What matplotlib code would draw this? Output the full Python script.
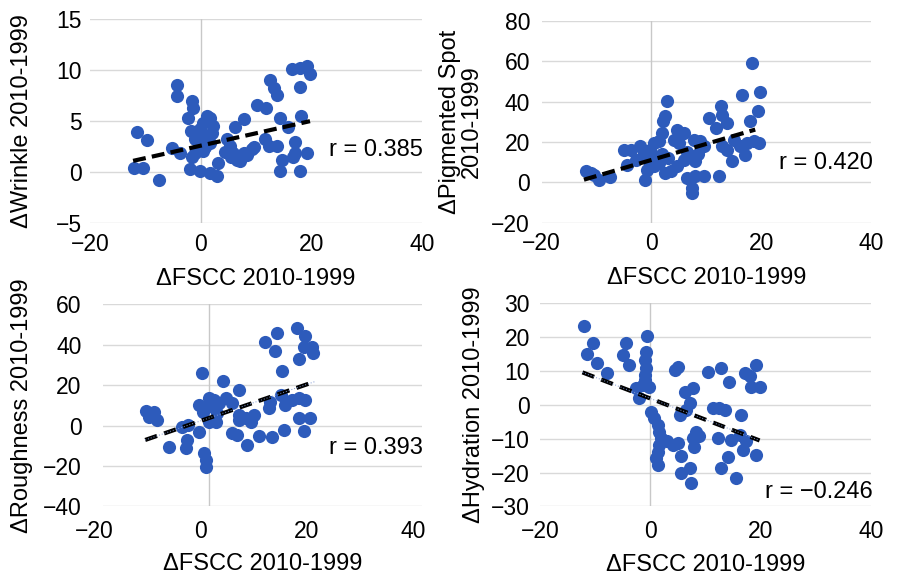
import matplotlib
matplotlib.use("Agg")
import matplotlib.pyplot as plt
from matplotlib.transforms import ScaledTranslation

plt.rcParams['font.family'] = ['Liberation Sans', 'DejaVu Sans']

# x axis shared by all panels
x_label = "ΔFSCC 2010-1999"
x_ticks = [-20, 0, 20, 40]

# Wrinkle
wrinkle_x = [-12.1, -10.4, -11.5, -9.7, -7.6, -5.2, -3.7, -4.3, -4.3, -1.6, -1.3, -2.2, -1.8,
             -1.0, -0.3, -1.0, 0.5, 1.7, -1.6, 1.1, 1.7, 2.3, -0.1, 0.5, 0.3, 1.0, 2.0, 0.8,
             -1.9, -0.1, 1.7, 2.9, 3.2, 7.8, 6.2, 4.7, 5.3, 5.9, 6.6, 7.2, 8.4, 9.3, 9.6, 7.8,
             5.5, 4.5, 10.3, 11.8, 12.6, 13.2, 13.8, 11.7, 12.3, 13.8, 14.4, 15.9, 17.0, 14.7,
             14.4, 16.8, 18.0, 19.3, 17.1, 16.5, 18.0, 19.3, 19.8, 17.9, 18.2]
wrinkle_y = [0.4, 0.4, 3.9, 3.1, -0.8, 2.4, 1.9, 8.5, 7.5, 7.0, 6.3, 5.3, 4.0,
             3.2, 2.6, 1.9, 2.1, 2.9, 1.5, 5.5, 5.3, 4.5, 4.2, 4.8, 3.8, 3.5, 3.8, 2.5,
             0.3, 0.1, -0.1, -0.4, 0.9, 5.2, 4.4, 3.2, 2.6, 1.9, 1.2, 1.1, 1.7, 2.3, 2.5, 1.9,
             1.5, 2.0, 6.6, 6.3, 9.0, 8.3, 7.6, 3.2, 2.6, 2.6, 5.3, 4.4, 3.0, 1.2,
             0.1, 1.5, 0.1, 1.9, 1.9, 10.1, 10.2, 10.4, 9.6, 8.4, 5.5]

# Pigmented spot
pigment_x = [18.3, 16.5, 19.7, 19.4, 18.0, 2.9, 2.4, 2.1, 1.9, 1.3, 12.6, 12.9, 13.8, 11.7,
             10.4, 4.7, 5.9, 4.1, 5.0, 7.7, 8.9, 9.5, -5.0, -3.8, -2.0, -1.4, -0.2, 0.4,
             -4.4, -2.9, -0.8, -1.1, 0.4, 1.3, 2.5, 3.5, 4.7, 5.9, 7.4, 8.0, 12.9, 13.8,
             14.7, 16.2, 17.1, 17.4, 18.6, 19.6, 15.0, -12.0, -11.1, -9.6, -7.5, -10.5,
             6.5, 8.0, 9.5, 12.3, 7.4, 7.4, 2.0, 3.0, 6.5, 8.5, 1.0, -0.5]
pigment_y = [59.0, 43.4, 44.6, 35.1, 30.2, 40.1, 32.7, 30.2, 24.4, 20.3, 38.0, 33.5, 29.4, 26.9,
             31.8, 26.1, 24.4, 21.1, 19.5, 21.1, 20.3, 17.8, 16.2, 16.2, 17.8, 14.5, 16.2, 19.5,
             8.7, 11.2, 6.3, 1.3, 7.9, 9.6, 4.6, 5.4, 7.9, 11.2, 12.9, 10.4, 17.8, 16.2,
             10.4, 17.8, 13.7, 19.5, 20.3, 19.5, 21.1, 5.4, 4.6, 1.3, 2.6, 3.8,
             2.1, 3.0, 3.0, 3.3, -2.8, -5.3, 14.0, 12.0, 15.0, 14.0, 12.0, 10.5]

# Roughness
rough_x = [16.5, 12.75, 10.4, 18.1, 17.8, 19.3, 19.6, 12.4, 16.8, 13.7, -1.4, 2.6, 5.6,
           -0.1, 0.9, 1.8, 3.1, -1.9, -1.3, -0.4, 0.6, 4.3, 11.5, 13.4, 15.6, 16.8, 18.1,
           14.3, 11.2, -11.9, -10.4, -11.3, -9.8, -10.7, -5.1, -4.1, -1.9, -0.1, 1.2, 1.5,
           5.6, 6.8, 7.75, 8.4, 5.6, 4.3, 5.25, 7.1, 9.3, 11.8, 14.0, 16.8, 19.0, 17.9,
           -7.7, -4.3, -4.4, -1.0, -0.7, -0.6]
rough_y = [48.1, 45.6, 41.5, 44.5, 39.0, 39.0, 35.7, 36.9, 32.9, 27.0, 25.9, 22.1, 17.6,
           13.5, 12.7, 11.0, 13.5, 10.2, 6.9, 9.4, 11.0, 11.0, 11.9, 15.2, 12.7, 13.5, 12.7,
           10.2, 8.6, 7.2, 6.9, 4.4, 2.8, 5.3, -0.5, 0.3, -3.0, 2.0, 2.0, 6.1,
           2.8, 3.6, 2.0, 5.3, 5.3, -3.8, -4.6, -9.6, -4.9, -5.4, -2.1, 3.6, 3.6, -2.5,
           -10.4, -7.1, -11.2, -13.7, -17.0, -20.3]

# Hydration
hydr_x = [-12.0, -10.4, -11.4, -9.6, -7.8, -4.4, -5.0, -3.9, -0.6, -0.8, -0.9, -0.8, -0.9,
          -0.9, -1.4, -0.2, -2.0, -2.6, 0.1, 0.7, 1.3, 1.6, 1.9, 1.6, 1.3, 1.0, 1.3, 2.2,
          3.1, 4.1, 5.0, 4.4, 5.0, 6.2, 7.7, 7.1, 5.3, 6.5, 10.4, 12.8, 14.2, 11.3, 12.5,
          13.5, 16.5, 17.1, 18.0, 19.2, 18.3, 19.8, 8.3, 8.9, 7.7, 8.0, 12.2, 14.7, 16.2,
          17.4, 16.8, 19.2, 14.1, 12.8, 15.6, 7.4, 5.6, 7.1, 5.6]
hydr_y = [23.4, 18.2, 14.9, 12.3, 9.3, 18.2, 14.6, 11.8, 20.2, 15.7, 13.3, 10.8, 8.8,
          7.4, 5.9, 5.4, 2.0, 4.9, -2.0, -3.9, -5.9, -7.9, -9.8, -11.8, -13.8, -15.7, -17.7, -10.8,
          -10.8, -11.8, -11.3, 10.3, 11.3, 3.9, 4.9, 0.5, -2.9, -1.5, 9.6, 11.0, 6.7, -1.0, -0.8,
          -1.5, -2.9, 9.3, 8.4, 11.8, 5.4, 5.4, -7.9, -9.3, -9.8, -12.3, -9.8, -10.3, -8.8,
          -10.8, -13.3, -14.7, -15.5, -18.5, -21.6, -23.2, -20.2, -18.5, -15.2]

# trend line end points
wrinkle_trend = ([-12.2, 19.8], [1.1, 5.0])
pigment_trend = ([-12.3, 18.9], [1.3, 26.1])
rough_trend = ([-12.1, 19.8], [-7.1, 21.7])
hydr_trend = ([-12.3, 19.8], [9.6, -10.5])

panels = [
    dict(x=wrinkle_x, y=wrinkle_y, trend=wrinkle_trend, ylabel="ΔWrinkle 2010-1999",
         yticks=[-5, 0, 5, 10, 15], r="r = 0.385", style="dash",
         rect=[0.1002, 0.6115, 0.3694, 0.3549], rpos=0.358, lblx=-0.172, pad=5.8,
         xshift=0, xpad=7, xlab=-0.22),
    dict(x=pigment_x, y=pigment_y, trend=pigment_trend, ylabel="ΔPigmented Spot\n2010-1999",
         yticks=[-20, 0, 20, 40, 60, 80], r="r = 0.420", style="dash",
         rect=[0.6032, 0.6120, 0.3668, 0.3519], rpos=0.295, lblx=-0.178, pad=8.4,
         xshift=0, xpad=7, xlab=-0.22),
    dict(x=rough_x, y=rough_y, trend=rough_trend, ylabel="ΔRoughness 2010-1999",
         yticks=[-40, -20, 0, 20, 40, 60], r="r = 0.393", style="dot",
         rect=[0.1150, 0.1176, 0.3546, 0.3523], rpos=0.288, lblx=-0.221, pad=15.6,
         xshift=-9, xpad=10, xlab=-0.232),
    dict(x=hydr_x, y=hydr_y, trend=hydr_trend, ylabel="ΔHydration 2010-1999",
         yticks=[-30, -20, -10, 0, 10, 20, 30], r="r = \u22120.246", style="dot",
         rect=[0.6013, 0.1176, 0.3687, 0.3540], rpos=0.073, lblx=-0.166, pad=7.2,
         xshift=0, xpad=10, xlab=-0.232),
]

fig = plt.figure(figsize=(8.98, 5.74), dpi=100)

for p in panels:
    ax = fig.add_axes(p['rect'])
    ax.set_xlim(-20, 40)
    ax.set_ylim(p['yticks'][0], p['yticks'][-1])
    ax.set_xticks(x_ticks)
    ax.set_yticks(p['yticks'])
    for s in ax.spines.values():
        s.set_visible(False)
    ax.grid(True, axis='y', color='#d9d9d9', lw=1)
    ax.axvline(0, color='#c8c8c8', lw=1, zorder=1)
    ax.tick_params(length=0, labelsize=16.5)
    ax.tick_params(axis='y', pad=p['pad'])
    ax.tick_params(axis='x', pad=p['xpad'])
    ax.set_axisbelow(True)

    ax.scatter(p['x'], p['y'], s=90, color='#2d5bbb', linewidths=0, zorder=2)

    tx, ty = p['trend']
    if p['style'] == 'dash':
        ax.plot(tx, ty, color='black', lw=3, dashes=(3.1, 1.5), zorder=3)
    else:
        ax.plot(tx, ty, color='black', lw=3, dashes=(3.0, 1.8), zorder=3)
        ax.plot(tx, ty, color='#7d97d2', lw=0.7, dashes=(1, 2), zorder=4)

    ax.text(1.005, p['rpos'], p['r'], transform=ax.transAxes, ha='right', va='center',
            fontsize=17)

    ax.set_ylabel(p['ylabel'], fontsize=17, linespacing=1.0)
    ax.yaxis.set_label_coords(p['lblx'], 0.5)
    ax.set_xlabel(x_label, fontsize=17)
    ax.xaxis.set_label_coords(0.5, p['xlab'])
    ax.xaxis.label.set_va('top')

    if p['xshift']:
        for lab in ax.get_xticklabels():
            lab.set_transform(lab.get_transform() +
                              ScaledTranslation(p['xshift'] / 100, 0, fig.dpi_scale_trans))

fig.savefig('out.png', dpi=100)
